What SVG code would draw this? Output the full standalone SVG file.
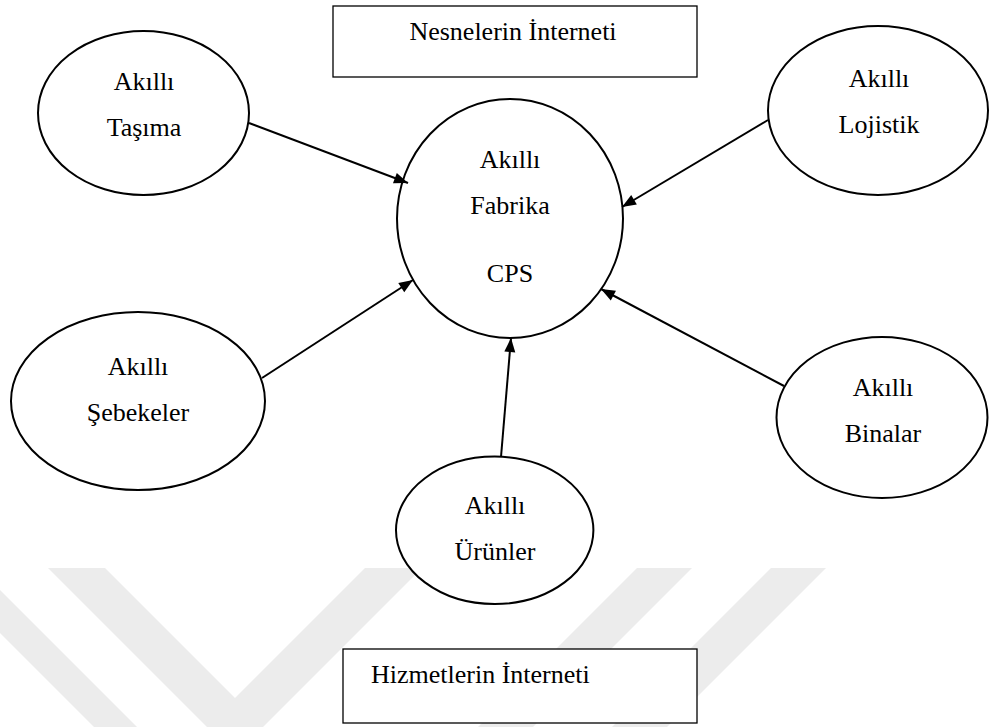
<svg xmlns="http://www.w3.org/2000/svg" width="989" height="727" viewBox="0 0 989 727">
<defs>
<style>
.wm{fill:#ececec;stroke:none}
.node{fill:#ffffff;stroke:#000000;stroke-width:2}
.box{fill:#ffffff;stroke:#000000;stroke-width:1.3}
.lbl{font-family:"Liberation Serif","Times New Roman",serif;font-size:26px;fill:#000000;text-anchor:middle}
.lft{text-anchor:start}
.edge{stroke:#000000;stroke-width:2;fill:none;marker-end:url(#arr)}
</style>
<marker id="arr" markerUnits="userSpaceOnUse" markerWidth="16" markerHeight="14" viewBox="0 0 16 14" refX="15" refY="7" orient="auto">
<path d="M1,1.5 L15,7 L1,12.5 Z" fill="#000000"/>
</marker>
</defs>
<rect width="989" height="727" fill="#ffffff"/>
<g id="watermark">
<polygon class="wm" points="0,590 137,727 94,727 0,633"/>
<polygon class="wm" points="48,568 105,568 235,698 365,568 422,568 263,727 207,727"/>
<polygon class="wm" points="637,568 692,568 533,727 478,727"/>
<polygon class="wm" points="771,568 826,568 667,727 612,727"/>
</g>
<g id="nesnelerin-interneti">
<rect class="box" x="333" y="6" width="364" height="71"/>
<text class="lbl" x="513" y="40">Nesnelerin İnterneti</text>
</g>
<g id="hizmetlerin-interneti">
<rect class="box" x="343" y="649" width="354" height="74"/>
<text class="lbl lft" x="371" y="683">Hizmetlerin İnterneti</text>
</g>
<g id="akilli-fabrika">
<ellipse class="node" cx="510" cy="218.5" rx="113" ry="119.5"/>
<text class="lbl" x="510" y="168">Akıllı</text>
<text class="lbl" x="510" y="214">Fabrika</text>
<text class="lbl" x="510" y="282">CPS</text>
</g>
<g id="akilli-tasima">
<ellipse class="node" cx="143.5" cy="113" rx="105.5" ry="82"/>
<text class="lbl" x="144" y="90">Akıllı</text>
<text class="lbl" x="144" y="136">Taşıma</text>
</g>
<g id="akilli-lojistik">
<ellipse class="node" cx="878" cy="110.5" rx="110" ry="84.5"/>
<text class="lbl" x="879" y="87">Akıllı</text>
<text class="lbl" x="879" y="133">Lojistik</text>
</g>
<g id="akilli-sebekeler">
<ellipse class="node" cx="138" cy="401" rx="127" ry="89"/>
<text class="lbl" x="138" y="375">Akıllı</text>
<text class="lbl" x="138" y="421">Şebekeler</text>
</g>
<g id="akilli-binalar">
<ellipse class="node" cx="882" cy="417.5" rx="105.5" ry="80.5"/>
<text class="lbl" x="883" y="396">Akıllı</text>
<text class="lbl" x="883" y="442">Binalar</text>
</g>
<g id="akilli-urunler">
<ellipse class="node" cx="494.7" cy="530.3" rx="98.7" ry="73.7"/>
<text class="lbl" x="495" y="514">Akıllı</text>
<text class="lbl" x="495" y="560">Ürünler</text>
</g>
<g id="connectors">
<line class="edge" x1="249" y1="123" x2="408" y2="183"/>
<line class="edge" x1="768" y1="120" x2="622" y2="207"/>
<line class="edge" x1="262" y1="378" x2="413" y2="280"/>
<line class="edge" x1="784" y1="386" x2="601" y2="289"/>
<line class="edge" x1="501" y1="457" x2="511" y2="338"/>
</g>
</svg>
